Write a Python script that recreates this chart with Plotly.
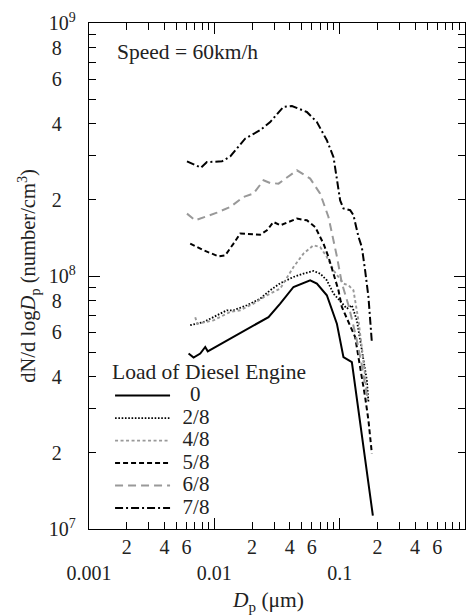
import plotly.graph_objects as go

# ---------------- data ----------------
series_names = ["0", "2/8", "4/8", "5/8", "6/8", "7/8"]

dp_0 = [0.00623, 0.00683, 0.00772, 0.00846, 0.00886, 0.02705, 0.03353, 0.04281,
        0.05816, 0.0658, 0.079, 0.095, 0.1072, 0.1251, 0.184]
n_0 = [4.94e7, 4.76e7, 4.94e7, 5.24e7, 5.04e7, 6.88e7, 7.78e7, 9.05e7,
       9.62e7, 9.33e7, 8.39e7, 6.48e7, 4.78e7, 4.57e7, 1.13e7]

dp_2 = [0.00642, 0.0082, 0.00928, 0.01114, 0.0126, 0.01422, 0.0182, 0.02323,
        0.02791, 0.03353, 0.04281, 0.05144, 0.06181, 0.06991, 0.079, 0.0893,
        0.1041, 0.1141, 0.1251, 0.1371, 0.1503, 0.1648, 0.1697]
n_2 = [6.39e7, 6.58e7, 6.78e7, 7.10e7, 7.32e7, 7.32e7, 7.66e7, 8.14e7,
       8.78e7, 9.36e7, 9.91e7, 1.022e8, 1.047e8, 1.022e8, 9.62e7, 8.52e7,
       7.80e7, 7.43e7, 7.66e7, 6.68e7, 5.09e7, 3.87e7, 3.18e7]

dp_4 = [0.00704, 0.00731, 0.00985, 0.01339, 0.01609, 0.02054, 0.02627, 0.03353,
        0.04281, 0.05144, 0.06181, 0.06991, 0.079, 0.0893, 0.1072, 0.1176,
        0.1288, 0.1412, 0.1548, 0.1672]
n_4 = [6.87e7, 6.48e7, 6.68e7, 7.21e7, 7.32e7, 7.78e7, 8.39e7, 8.92e7,
       1.085e8, 1.226e8, 1.322e8, 1.302e8, 1.189e8, 1.053e8, 9.33e7, 9.19e7,
       8.78e7, 6.68e7, 4.64e7, 3.23e7]

dp_5 = [0.00642, 0.0082, 0.0108, 0.01221, 0.01422, 0.01609, 0.02323, 0.02627,
        0.02965, 0.03353, 0.04557, 0.05474, 0.06376, 0.06775, 0.07427, 0.08141,
        0.0893, 0.09781, 0.1041, 0.1141, 0.1329, 0.1412, 0.1503, 0.1597,
        0.1697, 0.1806]
n_5 = [1.343e8, 1.264e8, 1.196e8, 1.207e8, 1.343e8, 1.471e8, 1.457e8, 1.515e8,
       1.635e8, 1.586e8, 1.686e8, 1.66e8, 1.562e8, 1.471e8, 1.343e8, 1.189e8,
       1.022e8, 8.78e7, 7.54e7, 6.78e7, 5.74e7, 4.78e7, 3.99e7, 3.32e7,
       2.69e7, 1.99e7]

dp_6 = [0.00605, 0.00704, 0.01049, 0.01339, 0.0171, 0.02054, 0.02468, 0.02791,
        0.03251, 0.04557, 0.05816, 0.06991, 0.0814, 0.095, 0.1041, 0.1176,
        0.1258, 0.1371, 0.1503, 0.1648]
n_6 = [1.764e8, 1.66e8, 1.78e8, 1.874e8, 2.053e8, 2.117e8, 2.389e8, 2.331e8,
       2.318e8, 2.617e8, 2.427e8, 2.117e8, 1.711e8, 1.196e8, 9.36e7, 7.66e7,
       6.68e7, 5.57e7, 4.44e7, 3.38e7]

dp_7 = [0.00605, 0.00782, 0.00873, 0.0115, 0.0134, 0.0176, 0.0232, 0.0279,
        0.0356, 0.0416, 0.0547, 0.0658, 0.079, 0.0893, 0.1009, 0.1072,
        0.1213, 0.1288, 0.1412, 0.1503, 0.1597, 0.1697, 0.1806]
n_7 = [2.84e8, 2.68e8, 2.82e8, 2.84e8, 2.97e8, 3.49e8, 3.77e8, 4.06e8,
       4.66e8, 4.70e8, 4.45e8, 4.06e8, 3.44e8, 2.95e8, 1.99e8, 1.85e8,
       1.82e8, 1.74e8, 1.43e8, 1.30e8, 1.05e8, 8.26e7, 5.48e7]

x_tick_vals = [0.001, 0.002, 0.004, 0.006, 0.01, 0.02, 0.04, 0.06, 0.1, 0.2, 0.4, 0.6, 1]
x_tick_text = ["<br>0.001", "2", "4", "6", "<br>0.01", "2", "4", "6",
               "<br>0.1", "2", "4", "6", "<br>1"]
x_minor_vals = [m * 10.0 ** e for e in (-3, -2, -1) for m in (3, 5, 7, 8, 9)]
x_decades = [0.001, 0.01, 0.1, 1]

y_tick_vals = [1e7, 2e7, 4e7, 6e7, 8e7, 1e8, 2e8, 4e8, 6e8, 8e8, 1e9]
y_tick_text = ["10<sup>7</sup>", "2", "4", "6", "8", "10<sup>8</sup>",
               "2", "4", "6", "8", "10<sup>9</sup>"]
y_minor_vals = [m * 10.0 ** e for e in (7, 8) for m in (3, 5, 7, 9)]
y_decades = [1e7, 1e8, 1e9]

# ---------------- styles ----------------
FONT = "Liberation Serif"
INK = "#222"
GRAY = "#999999"
styles = [
    dict(color="black", width=2.0, dash="solid"),
    dict(color="black", width=1.8, dash="1.6px,1.7px"),
    dict(color=GRAY, width=1.9, dash="3px,2.5px"),
    dict(color="black", width=2.0, dash="5px,3px"),
    dict(color=GRAY, width=2.0, dash="8px,5px"),
    dict(color="black", width=2.0, dash="8px,3px,2px,3px"),
]

xs = [dp_0, dp_2, dp_4, dp_5, dp_6, dp_7]
ys = [n_0, n_2, n_4, n_5, n_6, n_7]

PAD = "&nbsp;" * 2
fig = go.Figure()
for name, x, y, st in zip(series_names, xs, ys, styles):
    lead = PAD + ("&nbsp;&nbsp;" if name == "0" else "")
    label = lead + "<span style='font-size:21px'>" + name + "</span>"
    fig.add_trace(go.Scatter(x=x, y=y, mode="lines", name=label, line=st))

# invisible helper trace so the overlay axes (long decade ticks) are drawn
fig.add_trace(go.Scatter(x=[x_decades[0]], y=[y_decades[0]], xaxis="x2", yaxis="y2",
                         mode="markers", marker=dict(opacity=0), showlegend=False,
                         hoverinfo="skip"))

axis_common = dict(
    showline=True, linecolor="black", linewidth=1.3, mirror="allticks",
    ticks="inside", tickcolor="black", tickwidth=1, ticklen=7,
    showgrid=False, zeroline=False, automargin=False,
    tickfont=dict(family=FONT, size=20, color=INK),
)

fig.update_layout(
    width=467, height=616,
    margin=dict(l=89, r=2, t=23, b=87, autoexpand=False),
    paper_bgcolor="white", plot_bgcolor="white",
    font=dict(family=FONT, size=20, color=INK),
    showlegend=True,
    xaxis=dict(
        type="log", range=[-3, 0], tickmode="array",
        tickvals=x_tick_vals, ticktext=x_tick_text,
        minor=dict(tickmode="array", tickvals=x_minor_vals, ticks="inside",
                   ticklen=7, tickcolor="black", tickwidth=1, showgrid=False),
        **axis_common,
    ),
    yaxis=dict(
        type="log", range=[7, 9], tickmode="array",
        tickvals=y_tick_vals,
        ticktext=[t if t.startswith("10") else t + "&nbsp;&nbsp;\u2009" for t in y_tick_text],
        ticklabelstandoff=8,
        minor=dict(tickmode="array", tickvals=y_minor_vals, ticks="inside",
                   ticklen=7, tickcolor="black", tickwidth=1, showgrid=False),
        **axis_common,
    ),
    xaxis2=dict(
        type="log", range=[-3, 0], overlaying="x", anchor="y",
        tickmode="array", tickvals=x_decades, ticks="inside", ticklen=11,
        tickcolor="black", tickwidth=1, showticklabels=False, showline=False,
        mirror="allticks", showgrid=False, zeroline=False,
    ),
    yaxis2=dict(
        type="log", range=[7, 9], overlaying="y", anchor="x",
        tickmode="array", tickvals=y_decades, ticks="inside", ticklen=11,
        tickcolor="black", tickwidth=1, showticklabels=False, showline=False,
        mirror="allticks", showgrid=False, zeroline=False,
    ),
    legend=dict(
        x=0.056, y=0.351, xanchor="left", yanchor="top",
        bgcolor="rgba(0,0,0,0)", borderwidth=0,
        font=dict(family=FONT, size=15, color=INK),
        title=dict(text="Load of Diesel Engine", font=dict(family=FONT, size=21.5, color=INK)),
        tracegroupgap=0, itemwidth=55,
    ),
    annotations=[
        dict(text="Speed = 60km/h", xref="paper", yref="paper", x=0.070, y=0.943,
             xanchor="left", yanchor="middle", showarrow=False,
             font=dict(family=FONT, size=21.5, color=INK)),
        dict(text="<i>D</i><sub>p</sub> (μm)", xref="paper", yref="paper", x=0.475, y=-0.144,
             xanchor="center", yanchor="middle", showarrow=False,
             font=dict(family=FONT, size=21.5, color=INK)),
        dict(text="dN/d log<i>D</i><sub>p</sub> (number/cm<sup>3</sup>)", xref="paper", yref="paper",
             x=-0.163, y=0.5, xanchor="center", yanchor="middle", textangle=-90,
             showarrow=False, font=dict(family=FONT, size=20.5, color=INK)),
    ],
)

fig.write_html("out.html", config={"displayModeBar": False},
               post_script="document.body.style.margin='0px';")
